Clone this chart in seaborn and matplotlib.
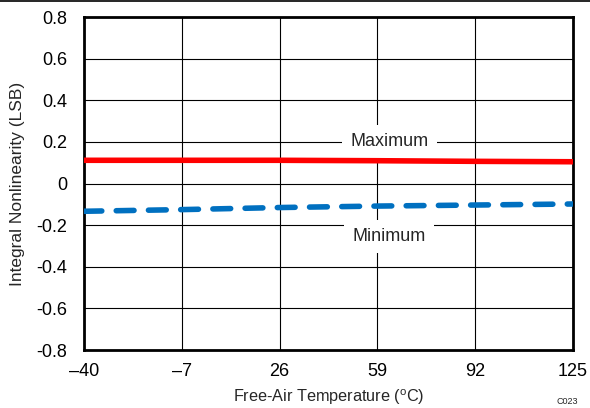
import numpy as np
import pandas as pd
import matplotlib
matplotlib.use('Agg')
import matplotlib.pyplot as plt
import seaborn as sns
from matplotlib.lines import Line2D

# data
temps = [-40, -7, 26, 59, 92, 125]
inl_max = [0.112, 0.112, 0.112, 0.110, 0.107, 0.105]
inl_min = [-0.133, -0.125, -0.115, -0.108, -0.103, -0.098]
x_ticks = [-40, -7, 26, 59, 92, 125]
x_labels = ['\u201340', '\u20137', '26', '59', '92', '125']
y_ticks = [-0.8, -0.6, -0.4, -0.2, 0, 0.2, 0.4, 0.6, 0.8]
y_labels = ['-0.8', '-0.6', '-0.4', '-0.2', '0', '0.2', '0.4', '0.6', '0.8']

sns.set_style('white')
plt.rcParams['font.family'] = ['Liberation Sans', 'DejaVu Sans']
plt.rcParams['mathtext.fontset'] = 'custom'
plt.rcParams['mathtext.rm'] = 'Liberation Sans'

df_max = pd.DataFrame({'temp': temps, 'inl': inl_max})
df_min = pd.DataFrame({'temp': temps, 'inl': inl_min})

fs = 13

fig = plt.figure(figsize=(5.9, 4.08), dpi=100)
ax = fig.add_axes([0.1424, 0.142, 0.8286, 0.816])

sns.lineplot(data=df_max, x='temp', y='inl', ax=ax, color='#ff0000', linewidth=4, zorder=5)
sns.lineplot(data=df_min, x='temp', y='inl', ax=ax, color='#0070c0', linewidth=4,
             linestyle=(0, (3.2, 2.6)), dash_capstyle='round', zorder=5)

ax.set_xlim(-40, 125)
ax.set_ylim(-0.8, 0.8)
ax.set_xticks(x_ticks)
ax.set_xticklabels(x_labels)
ax.set_yticks(y_ticks)
ax.set_yticklabels(y_labels)
ax.tick_params(axis='both', labelsize=fs, length=0, colors='black')
ax.tick_params(axis='x', pad=9)
ax.tick_params(axis='y', pad=12)
ax.grid(True, color='black', linewidth=0.8)
for s in ax.spines.values():
    s.set_color('black')
    s.set_linewidth(2)
    s.set_visible(True)

ax.set_xlabel(r'Free-Air Temperature ($^{\rm o}$C)', fontsize=11.7, labelpad=6)
ax.set_ylabel('Integral Nonlinearity (LSB)', fontsize=12.5, labelpad=8)

box = dict(facecolor='white', edgecolor='none', pad=6)
ax.text(63, 0.2, 'Maximum', ha='center', va='center', fontsize=fs, bbox=box, zorder=4)
ax.text(63, -0.255, 'Minimum', ha='center', va='center', fontsize=fs, bbox=box, zorder=4)

fig.text(0.962, 0.005, 'C023', fontsize=6.5, ha='center', va='bottom')
fig.add_artist(Line2D([0, 1], [0.998, 0.998], color='black', linewidth=1.2, transform=fig.transFigure))

fig.savefig('out.png', dpi=100)
